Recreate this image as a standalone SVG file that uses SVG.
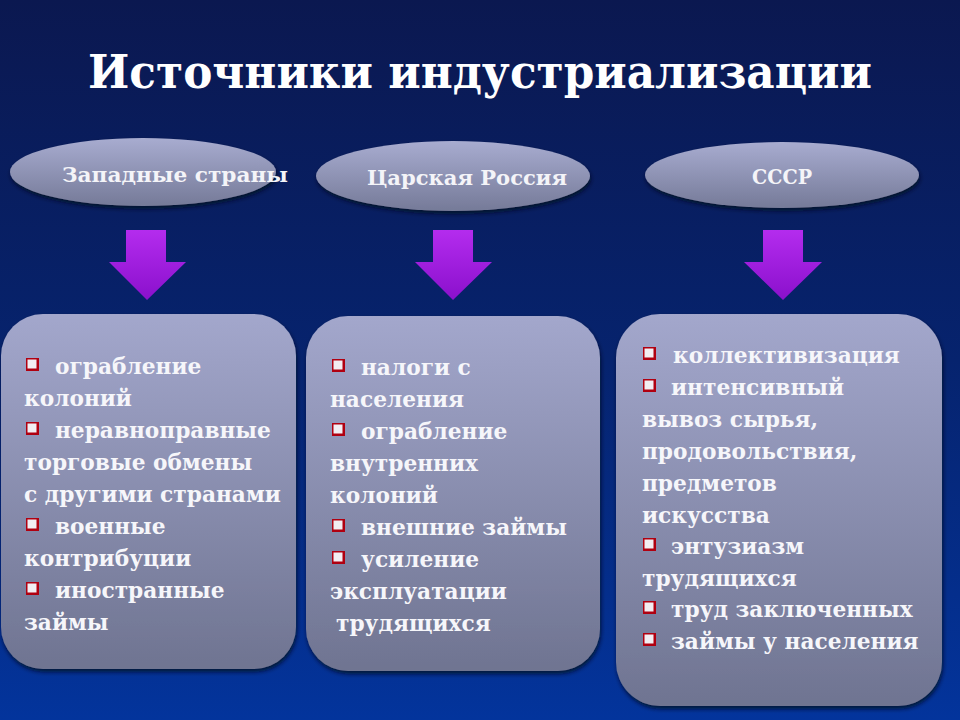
<svg xmlns="http://www.w3.org/2000/svg" width="960" height="720" viewBox="0 0 960 720">
<defs>
<linearGradient id="bg" x1="0" y1="0" x2="0" y2="1">
<stop offset="0" stop-color="#0b1850"/>
<stop offset="0.5" stop-color="#06236e"/>
<stop offset="1" stop-color="#03349c"/>
</linearGradient>
<linearGradient id="pill" x1="0" y1="0" x2="0" y2="1">
<stop offset="0" stop-color="#a8acd0"/>
<stop offset="1" stop-color="#757a98"/>
</linearGradient>
<linearGradient id="box" x1="0" y1="0" x2="0" y2="1">
<stop offset="0" stop-color="#a3a7cc"/>
<stop offset="1" stop-color="#6f7491"/>
</linearGradient>
<linearGradient id="arr" x1="0" y1="0" x2="0" y2="1">
<stop offset="0" stop-color="#b42cee"/>
<stop offset="1" stop-color="#8a10cc"/>
</linearGradient>
<filter id="sh" x="-10%" y="-10%" width="120%" height="130%">
<feDropShadow dx="1" dy="3" stdDeviation="2" flood-color="#000820" flood-opacity="0.8"/>
</filter>
<g id="bul">
<rect x="0" y="0" width="13" height="13" fill="#b00010"/>
<rect x="1.5" y="1.5" width="9" height="9" fill="#f2eef2"/>
</g>
</defs>
<style>
.t{font-family:"DejaVu Serif","Liberation Serif",serif;font-weight:bold;fill:#ffffff}
.title{font-size:46px}
.lab{font-size:21px;fill:#f4f4f8}
.li{font-size:21.7px;fill:#f6f6fa}
</style>
<rect width="960" height="720" fill="url(#bg)"/>
<text class="t title" x="480" y="88" text-anchor="middle" textLength="784" lengthAdjust="spacingAndGlyphs">Источники индустриализации</text>

<g id="node-west">
<ellipse cx="143" cy="172" rx="133" ry="34" fill="url(#pill)" filter="url(#sh)"/>
<text class="t lab" x="62" y="182" textLength="226" lengthAdjust="spacingAndGlyphs">Западные страны</text>
</g>
<g id="node-tsar">
<ellipse cx="453" cy="176" rx="137" ry="35" fill="url(#pill)" filter="url(#sh)"/>
<text class="t lab" x="367" y="185" textLength="200" lengthAdjust="spacingAndGlyphs">Царская Россия</text>
</g>
<g id="node-ussr">
<ellipse cx="782" cy="175" rx="137" ry="33" fill="url(#pill)" filter="url(#sh)"/>
<text class="t lab" x="782" y="184" text-anchor="middle" textLength="60" lengthAdjust="spacingAndGlyphs">СССР</text>
</g>

<g id="connectors">
<path d="M126,230 H166 V262 H186 L147,300 L109,262 H126 Z" fill="url(#arr)"/>
<path d="M433,230 H473 V262 H492 L453,300 L415,262 H433 Z" fill="url(#arr)"/>
<path d="M763,230 H803 V262 H822 L783,300 L744,262 H763 Z" fill="url(#arr)"/>
</g>

<g id="box-west">
<rect x="1" y="314" width="295" height="355" rx="42" fill="url(#box)" filter="url(#sh)"/>
<use href="#bul" x="26" y="358"/>
<use href="#bul" x="26" y="422"/>
<use href="#bul" x="26" y="518"/>
<use href="#bul" x="26" y="582"/>
<g class="t li">
<text x="55" y="374">ограбление</text>
<text x="24" y="406">колоний</text>
<text x="55" y="438">неравноправные</text>
<text x="24" y="470">торговые обмены</text>
<text x="24" y="502">с другими странами</text>
<text x="55" y="534">военные</text>
<text x="24" y="566">контрибуции</text>
<text x="55" y="598">иностранные</text>
<text x="24" y="630">займы</text>
</g>
</g>

<g id="box-tsar">
<rect x="306" y="316" width="294" height="355" rx="42" fill="url(#box)" filter="url(#sh)"/>
<use href="#bul" x="332" y="359"/>
<use href="#bul" x="332" y="423"/>
<use href="#bul" x="332" y="519"/>
<use href="#bul" x="332" y="551"/>
<g class="t li">
<text x="361" y="375">налоги с</text>
<text x="330" y="407">населения</text>
<text x="361" y="439">ограбление</text>
<text x="330" y="471">внутренних</text>
<text x="330" y="503">колоний</text>
<text x="361" y="535">внешние займы</text>
<text x="361" y="567">усиление</text>
<text x="330" y="599">эксплуатации</text>
<text x="336" y="631">трудящихся</text>
</g>
</g>

<g id="box-ussr">
<rect x="616" y="314" width="326" height="392" rx="44" fill="url(#box)" filter="url(#sh)"/>
<use href="#bul" x="643" y="347"/>
<use href="#bul" x="643" y="379"/>
<use href="#bul" x="643" y="538"/>
<use href="#bul" x="643" y="601"/>
<use href="#bul" x="643" y="633"/>
<g class="t li">
<text x="673" y="363">коллективизация</text>
<text x="671" y="395">интенсивный</text>
<text x="642" y="427">вывоз сырья,</text>
<text x="642" y="459">продовольствия,</text>
<text x="642" y="491">предметов</text>
<text x="642" y="523">искусства</text>
<text x="671" y="554">энтузиазм</text>
<text x="642" y="586">трудящихся</text>
<text x="671" y="617">труд заключенных</text>
<text x="671" y="649">займы у населения</text>
</g>
</g>
</svg>
